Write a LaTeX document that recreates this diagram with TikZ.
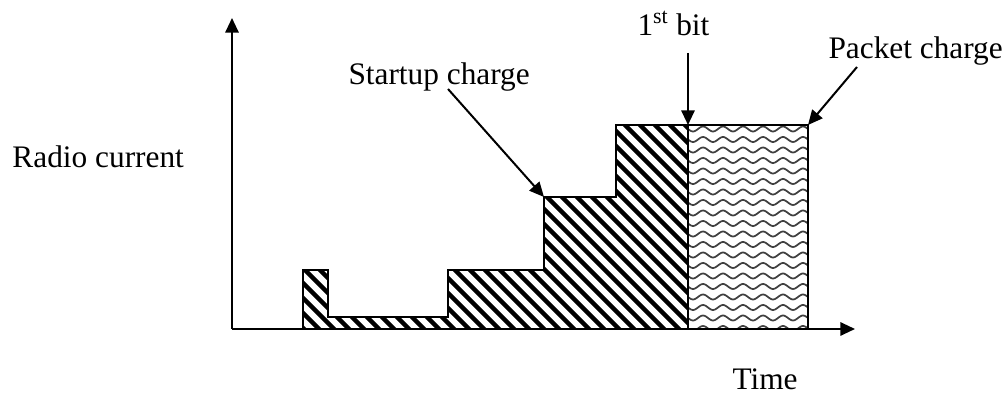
\documentclass[tikz,border=0pt]{standalone}
\usepackage{fontspec}
\setmainfont{Liberation Serif}
\usetikzlibrary{arrows.meta}
\tikzset{every picture/.style={line width=0.75pt}}
\tikzset{
  lbl/.style={anchor=base west,inner sep=0pt,font=\fontsize{23.5}{28}\selectfont},
  tip/.style={-{Triangle[length=11pt,width=10pt]}},
  stripe/.style={line width=3.4pt},
  wave/.style={line width=1.3pt,color=black!75}
}

\begin{document}
\begin{tikzpicture}[x=0.75pt,y=0.75pt,yscale=-1,xscale=1]
    \useasboundingbox (0,0) rectangle (1008,398);
    % corner points of the steps
    \coordinate (o) at (232,329);
    \coordinate (ytop) at (232,18);
    \coordinate (xend) at (855,329);
    \coordinate (stepA) at (544,197);
    \coordinate (bitTop) at (688,125);
    \coordinate (pktTop) at (808,125);
    \coordinate (bitFrom) at (688,53);
    \coordinate (startFrom) at (448,89);
    \coordinate (pktFrom) at (857,67);
    % startup charge, hatched
    \begin{scope}
    \clip (303,329) -- (303,270) -- (328,270) -- (328,317) -- (448,317) -- (448,270) -- (544,270) -- (544,197) -- (616,197) -- (616,125) -- (688,125) -- (688,329) -- cycle ;
    \foreach \c in {-300,-285,...,420}
        \draw [stripe] (\c+300,100) -- (\c+540,340) ;
    \end{scope}
    \draw [line width=1.5pt]  (303,329) -- (303,270) -- (328,270) -- (328,317) -- (448,317) -- (448,270) -- (544,270) -- (544,197) -- (616,197) -- (616,125) -- (688,125) -- (688,329) ;
    % packet charge, wavy fill
    \begin{scope}
    \clip (688,125) rectangle (808,329);
    \foreach \y in {129,139.5,...,335}
        \draw [wave,domain=688:808,samples=81] plot (\x,{\y+2.5*sin(18*(\x-688))}) ;
    \end{scope}
    \draw [line width=1.5pt]  (688,125) rectangle (808,329) ;
    % axes
    \draw [line width=1.5pt,tip]  (o) -- (ytop) ;
    \draw [line width=1.5pt,tip]  (o) -- (xend) ;
    % labels
    \node (ylabel) at (12,168) [lbl] {Radio current};
    \node (xlabel) at (732,390) [lbl] {Time};
    \node (startup) at (348,85) [lbl] {Startup charge};
    \node (firstbit) at (637,36) [lbl] {1\textsuperscript{st} bit};
    \node (packet) at (828,59) [lbl] {Packet charge};
    % pointers
    \draw [line width=1.5pt,tip]  (startFrom) -- (stepA) ;
    \draw [line width=1.5pt,tip]  (bitFrom) -- (bitTop) ;
    \draw [line width=1.5pt,tip]  (pktFrom) -- (pktTop) ;
\end{tikzpicture}
\end{document}
